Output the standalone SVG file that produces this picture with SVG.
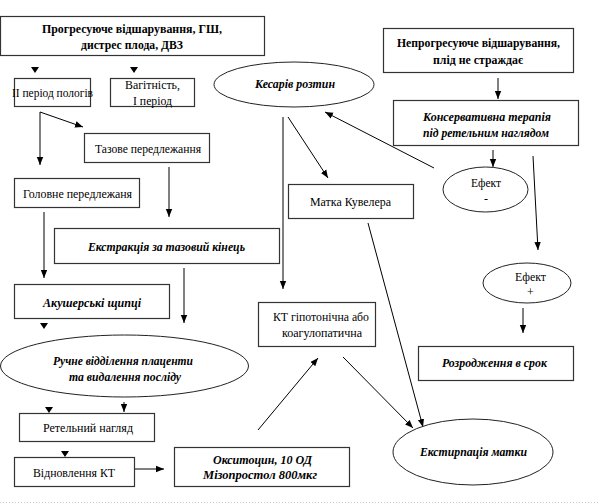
<svg xmlns="http://www.w3.org/2000/svg" width="599" height="504" viewBox="0 0 599 504">
<defs>
<marker id="ah" viewBox="0 0 10 10" refX="10" refY="5" markerWidth="8" markerHeight="8" markerUnits="userSpaceOnUse" orient="auto">
<path d="M0,1 L10,5 L0,9 z" fill="#000"/>
</marker>
</defs>
<style>
.box{fill:#fff;stroke:#333;stroke-width:1.2}
.ell{fill:#fff;stroke:#222;stroke-width:1}
.t{font-family:'Liberation Serif','Liberation Sans',sans-serif;font-size:12px;fill:#000;text-anchor:middle}
.b{font-weight:bold}
.bi{font-weight:bold;font-style:italic}
.c{stroke:#000;stroke-width:1;fill:none;marker-end:url(#ah)}
.tri{fill:#000}
</style>
<rect width="599" height="504" fill="#fff"/>

<g id="connectors">
<polygon class="tri" points="31,67 39,67 35,73"/>
<polygon class="tri" points="130,67 138,67 134,73"/>
<line class="c" x1="40" y1="112" x2="83" y2="127"/>
<line class="c" x1="40" y1="112" x2="40" y2="165"/>
<line class="c" x1="169" y1="167" x2="169" y2="217"/>
<line class="c" x1="44" y1="212" x2="44" y2="278"/>
<line class="c" x1="184" y1="268" x2="184" y2="323"/>
<polygon class="tri" points="40,323 48,323 44,329"/>
<polygon class="tri" points="45,407 53,407 49,413"/>
<line class="c" x1="124" y1="402" x2="124" y2="412"/>
<polygon class="tri" points="61,451 69,451 65,457"/>
<line class="c" x1="134" y1="469" x2="164" y2="469"/>
<line class="c" x1="258" y1="430" x2="318" y2="358"/>
<line class="c" x1="343" y1="357" x2="413" y2="428"/>
<line class="c" x1="368" y1="223" x2="423" y2="427"/>
<line class="c" x1="283" y1="117" x2="283" y2="289"/>
<line class="c" x1="288" y1="117" x2="328" y2="178"/>
<line class="c" x1="434" y1="168" x2="325" y2="112"/>
<line class="c" x1="498" y1="78" x2="498" y2="99"/>
<line class="c" x1="493" y1="150" x2="493" y2="167"/>
<line class="c" x1="533" y1="156" x2="538" y2="250"/>
<line class="c" x1="523" y1="308" x2="523" y2="333"/>
</g>

<g id="n-progr">
<rect class="box" x="0.5" y="16.5" width="264" height="39"/>
<text class="t b" x="132" y="33" textLength="180" lengthAdjust="spacingAndGlyphs">Прогресуюче  відшарування, ГШ,</text>
<text class="t b" x="132" y="49" textLength="102" lengthAdjust="spacingAndGlyphs">дистрес плода, ДВЗ</text>
</g>
<g id="n-period2">
<rect class="box" x="14.5" y="78.5" width="76" height="28"/>
<text class="t" x="52.5" y="97" textLength="81" lengthAdjust="spacingAndGlyphs">ІІ період пологів</text>
</g>
<g id="n-vagit">
<rect class="box" x="110.5" y="78.5" width="84" height="28"/>
<text class="t" x="152.5" y="89" textLength="55" lengthAdjust="spacingAndGlyphs">Вагітність,</text>
<text class="t" x="152.5" y="105" textLength="39" lengthAdjust="spacingAndGlyphs">І період</text>
</g>
<g id="n-kesariv">
<ellipse class="ell" cx="294" cy="84.5" rx="80" ry="22.5"/>
<text class="t bi" x="295" y="88" textLength="80" lengthAdjust="spacingAndGlyphs">Кесарів розтин</text>
</g>
<g id="n-nepro">
<rect class="box" x="383.5" y="28.5" width="190" height="44"/>
<text class="t b" x="478.5" y="47" textLength="163" lengthAdjust="spacingAndGlyphs">Непрогресуюче  відшарування,</text>
<text class="t b" x="478" y="64" textLength="90" lengthAdjust="spacingAndGlyphs">плід не страждає</text>
</g>
<g id="n-kons">
<rect class="box" x="393.5" y="100.5" width="185" height="45"/>
<text class="t bi" x="487" y="121" textLength="128" lengthAdjust="spacingAndGlyphs">Консервативна терапія</text>
<text class="t bi" x="486" y="137" textLength="126" lengthAdjust="spacingAndGlyphs">під ретельним наглядом</text>
</g>
<g id="n-tazove">
<rect class="box" x="84.5" y="133.5" width="125" height="29"/>
<text class="t" x="148" y="153" textLength="106" lengthAdjust="spacingAndGlyphs">Тазове передлежання</text>
</g>
<g id="n-golovne">
<rect class="box" x="14.5" y="178.5" width="125" height="29"/>
<text class="t" x="77.5" y="198" textLength="109" lengthAdjust="spacingAndGlyphs">Головне передлежаня</text>
</g>
<g id="n-kuveler">
<rect class="box" x="288.5" y="184.5" width="125" height="34"/>
<text class="t" x="350.5" y="206" textLength="81" lengthAdjust="spacingAndGlyphs">Матка Кувелера</text>
</g>
<g id="n-efminus">
<ellipse class="ell" cx="485.5" cy="189.5" rx="42.5" ry="22.5"/>
<text class="t" x="486" y="187" textLength="30" lengthAdjust="spacingAndGlyphs">Ефект</text>
<text class="t" x="486" y="203">-</text>
</g>
<g id="n-ekstr">
<rect class="box" x="54.5" y="228.5" width="225" height="35"/>
<text class="t bi" x="166.5" y="251" textLength="157" lengthAdjust="spacingAndGlyphs">Екстракція за тазовий кінець</text>
</g>
<g id="n-efplus">
<ellipse class="ell" cx="527" cy="283" rx="44" ry="20"/>
<text class="t" x="530.5" y="281" textLength="31" lengthAdjust="spacingAndGlyphs">Ефект</text>
<text class="t" x="530.5" y="296">+</text>
</g>
<g id="n-shchyptsi">
<rect class="box" x="14.5" y="284.5" width="155" height="34"/>
<text class="t bi" x="92" y="307" textLength="98" lengthAdjust="spacingAndGlyphs">Акушерські щипці</text>
</g>
<g id="n-kt">
<rect class="box" x="258.5" y="302.5" width="117" height="44"/>
<text class="t" x="321" y="321" textLength="96" lengthAdjust="spacingAndGlyphs">КТ гіпотонічна або</text>
<text class="t" x="322" y="337" textLength="80" lengthAdjust="spacingAndGlyphs">коагулопатична</text>
</g>
<g id="n-rozrod">
<rect class="box" x="418.5" y="346.5" width="155" height="34"/>
<text class="t bi" x="494.5" y="367" textLength="105" lengthAdjust="spacingAndGlyphs">Розродження в срок</text>
</g>
<g id="n-ruchne">
<ellipse class="ell" cx="124.5" cy="366" rx="124" ry="31"/>
<text class="t bi" x="123" y="365" textLength="140" lengthAdjust="spacingAndGlyphs">Ручне відділення плаценти</text>
<text class="t bi" x="125" y="381" textLength="112" lengthAdjust="spacingAndGlyphs">та видалення посліду</text>
</g>
<g id="n-retel">
<rect class="box" x="19.5" y="413.5" width="135" height="28"/>
<text class="t" x="88" y="432" textLength="90" lengthAdjust="spacingAndGlyphs">Ретельний нагляд</text>
</g>
<g id="n-ekstyrp">
<ellipse class="ell" cx="473" cy="452" rx="80" ry="33"/>
<text class="t bi" x="473.5" y="456" textLength="107" lengthAdjust="spacingAndGlyphs">Екстирпація матки</text>
</g>
<g id="n-vidnovl">
<rect class="box" x="14.5" y="457.5" width="120" height="29"/>
<text class="t" x="74" y="477" textLength="82" lengthAdjust="spacingAndGlyphs">Відновлення КТ</text>
</g>
<g id="n-oksyt">
<rect class="box" x="174.5" y="447.5" width="175" height="39"/>
<text class="t bi" x="262.5" y="464" textLength="99" lengthAdjust="spacingAndGlyphs">Окситоцин, 10 ОД</text>
<text class="t bi" x="260" y="479" textLength="114" lengthAdjust="spacingAndGlyphs">Мізопростол 800мкг</text>
</g>
<line x1="0" y1="502.5" x2="599" y2="502.5" stroke="#ccc" stroke-width="1" stroke-dasharray="1,2"/>
</svg>
